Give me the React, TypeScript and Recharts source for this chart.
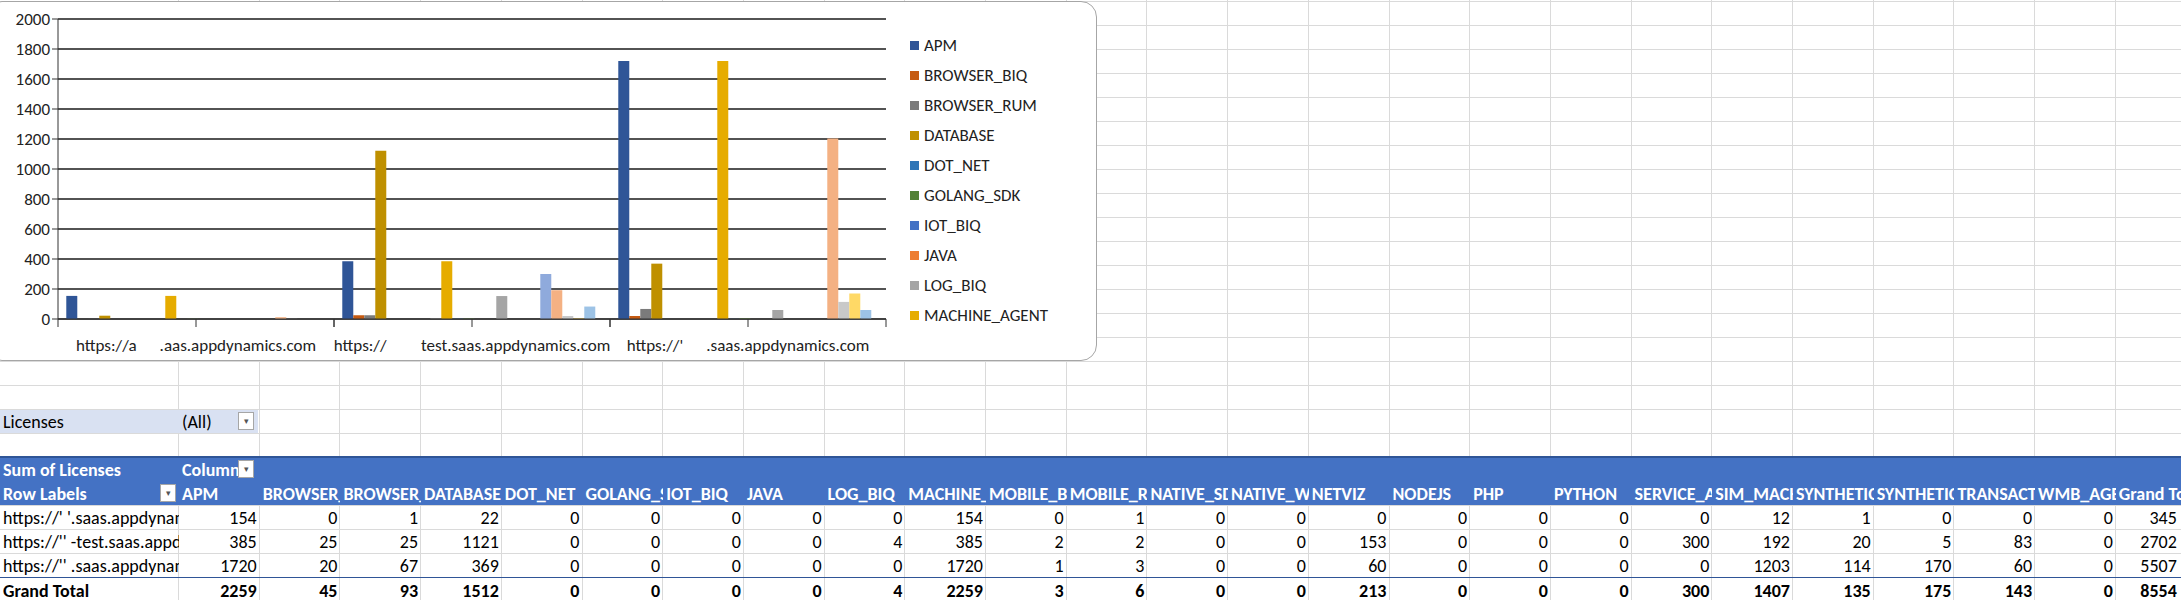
import React from 'react';
import { BarChart, Bar, XAxis, YAxis, CartesianGrid } from 'recharts';

const seriesNames = [
  'APM', 'BROWSER_BIQ', 'BROWSER_RUM', 'DATABASE', 'DOT_NET', 'GOLANG_SDK', 'IOT_BIQ', 'JAVA',
  'LOG_BIQ', 'MACHINE_AGENT', 'MOBILE_BIQ', 'MOBILE_RUM', 'NATIVE_SDK', 'NATIVE_WEB', 'NETVIZ',
  'NODEJS', 'PHP', 'PYTHON', 'SERVICE_AVAIL', 'SIM_MACHINE', 'SYNTHETIC_API', 'SYNTHETIC_BROWSER',
  'TRANSACTION_ANALYTICS', 'WMB_AGENT',
];
const seriesColors = [
  '#2F5597', '#C55A11', '#7B7B7B', '#BF9000', '#2E75B6', '#538135', '#4472C4', '#ED7D31',
  '#A5A5A5', '#E6AC00', '#5B9BD5', '#70AD47', '#264478', '#9E480E', '#A5A5A5', '#997300',
  '#255E91', '#43682B', '#8FAADC', '#F4B183', '#C9C9C9', '#FFD966', '#9DC3E6', '#A9D18E',
];

const chartLabels = [
  'https://a      .aas.appdynamics.com',
  'https://         test.saas.appdynamics.com',
  "https://'      .saas.appdynamics.com",
];
const rowLabels = [
  "https://'  '.saas.appdynamics.com",
  "https://'' -test.saas.appdynamics.com",
  "https://'' .saas.appdynamics.com",
];
const row1 = [154, 0, 1, 22, 0, 0, 0, 0, 0, 154, 0, 1, 0, 0, 0, 0, 0, 0, 0, 12, 1, 0, 0, 0];
const row2 = [385, 25, 25, 1121, 0, 0, 0, 0, 4, 385, 2, 2, 0, 0, 153, 0, 0, 0, 300, 192, 20, 5, 83, 0];
const row3 = [1720, 20, 67, 369, 0, 0, 0, 0, 0, 1720, 1, 3, 0, 0, 60, 0, 0, 0, 0, 1203, 114, 170, 60, 0];
const rows = [row1, row2, row3];
const yTicks = [0, 200, 400, 600, 800, 1000, 1200, 1400, 1600, 1800, 2000];
const minorTicks = Array.from({ length: 51 }, (_, i) => i * 40);

const data = chartLabels.map((name, r) => {
  const d: Record<string, any> = { name };
  seriesNames.forEach((s, i) => (d[s] = rows[r][i]));
  return d;
});

const FONT = "Carlito, 'Liberation Sans Narrow', 'Liberation Sans', sans-serif";
const COL_A = 179;
const COL_W = 80.7;
const ROW_H = 24;
const BAND = 276;

const CategoryTick = (props: any) => {
  const { x, y, payload } = props;
  return (
    <g>
      {[-BAND / 2, 0, BAND / 2].map((dx) => (
        <line key={dx} x1={x + dx} x2={x + dx} y1={y - 8} y2={y} stroke="#333" />
      ))}
      <text x={x} y={y + 24} textAnchor="middle" fontSize={17} fill="#222">
        {String(payload.value).replace(/ /g, '\u00A0')}
      </text>
    </g>
  );
};

const LegendBox = () => (
  <div style={{ position: 'absolute', left: 910, top: 30, fontFamily: FONT, fontSize: 17, color: '#222' }}>
    {seriesNames.slice(0, 10).map((s, i) => (
      <div key={s} style={{ height: 30, display: 'flex', alignItems: 'center' }}>
        <span style={{ width: 9, height: 9, background: seriesColors[i], marginRight: 5, display: 'inline-block' }} />
        {s}
      </div>
    ))}
  </div>
);

const cell = (left: number, top: number, width: number, text: any, style: React.CSSProperties = {}) => (
  <div
    style={{
      position: 'absolute', left, top, width, height: ROW_H, overflow: 'hidden', whiteSpace: 'nowrap',
      boxSizing: 'border-box', padding: '0 3px', lineHeight: `${ROW_H + 2}px`, ...style,
    }}
  >
    {text}
  </div>
);

const Dropdown = ({ left, top }: { left: number; top: number }) => (
  <div
    style={{
      position: 'absolute', left, top, width: 16, height: 18, background: '#fff', border: '1px solid #A6A6A6',
      boxSizing: 'border-box', fontSize: 9, color: '#555', textAlign: 'center', lineHeight: '16px',
    }}
  >
    ▾
  </div>
);

const App = () => {
  const colX = (c: number) => (c === 0 ? 0 : COL_A + (c - 1) * COL_W);
  const colWidth = (c: number) => (c === 0 ? COL_A : COL_W);
  const totals = seriesNames.map((_, i) => rows.reduce((a, r) => a + r[i], 0));
  const rowTotals = rows.map((r) => r.reduce((a, v) => a + v, 0));
  const grand = rowTotals.reduce((a, v) => a + v, 0);
  const headerTop = 457;

  return (
    <div style={{ position: 'fixed', left: 0, top: 0, width: 2181, height: 600, background: '#fff', overflow: 'hidden', fontFamily: FONT, fontSize: 18, color: '#000' }}>
      {/* sheet grid */}
      {Array.from({ length: 26 }, (_, c) => (
        <div key={'v' + c} style={{ position: 'absolute', left: colX(c + 1) - 1, top: 0, width: 1, height: 600, background: '#DADADA' }} />
      ))}
      {Array.from({ length: 26 }, (_, r) => (
        <div key={'h' + r} style={{ position: 'absolute', left: 0, top: 1 + r * ROW_H, width: 2181, height: 1, background: '#DADADA' }} />
      ))}

      {/* filter row */}
      <div style={{ position: 'absolute', left: 0, top: 410, width: 258, height: 23, background: '#D9E1F2' }} />
      {cell(0, 409, COL_A, 'Licenses')}
      {cell(COL_A, 409, 60, '(All)')}
      <Dropdown left={238} top={412} />

      {/* pivot header */}
      <div style={{ position: 'absolute', left: 0, top: headerTop - 1, width: 2181, height: 2 * ROW_H + 1, background: '#4472C4', borderTop: '2px solid #2F5597', boxSizing: 'border-box' }} />
      {cell(0, headerTop, COL_A, 'Sum of Licenses', { color: '#fff', fontWeight: 'bold' })}
      {cell(COL_A, headerTop, 59, 'Column Labels', { color: '#fff', fontWeight: 'bold' })}
      <Dropdown left={238} top={headerTop + 3} />
      {cell(0, headerTop + ROW_H, 160, 'Row Labels', { color: '#fff', fontWeight: 'bold' })}
      <Dropdown left={160} top={headerTop + ROW_H + 3} />
      {seriesNames.map((s, i) =>
        cell(colX(i + 1), headerTop + ROW_H, colWidth(i + 1), s, { color: '#fff', fontWeight: 'bold' })
      )}
      {cell(colX(25), headerTop + ROW_H, 100, 'Grand Total', { color: '#fff', fontWeight: 'bold' })}

      {/* data rows */}
      {rows.map((r, ri) => (
        <React.Fragment key={ri}>
          {cell(0, 505 + ri * ROW_H, COL_A, rowLabels[ri])}
          {r.map((v, i) => cell(colX(i + 1), 505 + ri * ROW_H, COL_W, v, { textAlign: 'right' }))}
          {cell(colX(25), 505 + ri * ROW_H, 64, rowTotals[ri], { textAlign: 'right' })}
        </React.Fragment>
      ))}
      <div style={{ position: 'absolute', left: 0, top: 577, width: 2181, height: 1, background: '#2F5597' }} />
      {cell(0, 578, COL_A, 'Grand Total', { fontWeight: 'bold' })}
      {totals.map((v, i) => cell(colX(i + 1), 578, COL_W, v, { textAlign: 'right', fontWeight: 'bold' }))}
      {cell(colX(25), 578, 64, grand, { textAlign: 'right', fontWeight: 'bold' })}

      {/* chart object */}
      <div style={{ position: 'absolute', left: -14, top: 1, width: 1111, height: 360, background: '#fff', border: '1px solid #A6A6A6', borderRadius: 16, boxSizing: 'border-box' }} />
      <div style={{ position: 'absolute', left: 0, top: 0 }}>
        <BarChart
          width={1097}
          height={361}
          data={data}
          margin={{ top: 19, right: 211, left: 8, bottom: 12 }}
          barCategoryGap="3%"
          barGap={0}
          style={{ fontFamily: FONT }}
        >
          <CartesianGrid vertical={false} stroke="#1a1a1a" strokeWidth={1.3} />
          <XAxis dataKey="name" tick={<CategoryTick />} tickLine={false} axisLine={{ stroke: '#333' }} height={30} interval={0} />
          <YAxis
            domain={[0, 2000]}
            ticks={yTicks}
            width={50}
            tick={{ fontSize: 17, fill: '#222' }}
            tickSize={6}
            tickLine={{ stroke: '#333' }}
            axisLine={{ stroke: '#333' }}
          />
          <YAxis yAxisId="minor" domain={[0, 2000]} ticks={minorTicks} width={0} tick={false} tickSize={3} tickLine={{ stroke: '#333' }} axisLine={false} />
          {seriesNames.map((s, i) => (
            <Bar key={s} dataKey={s} fill={seriesColors[i]} isAnimationActive={false} />
          ))}
        </BarChart>
      </div>
      <LegendBox />
    </div>
  );
};

export default App;
